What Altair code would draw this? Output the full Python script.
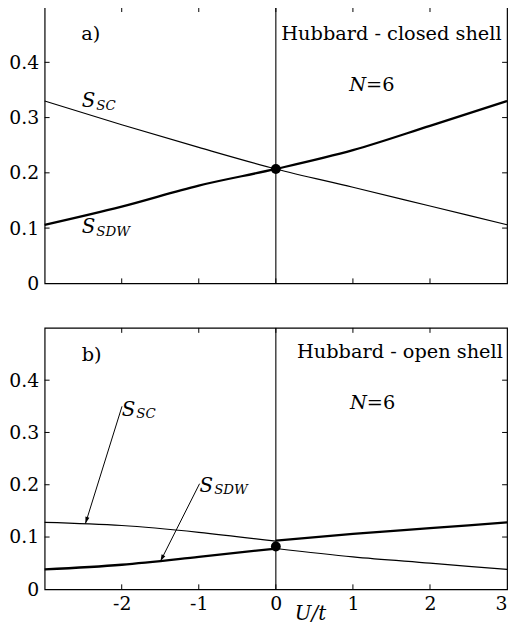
import altair as alt
import pandas as pd

# ---------------- data ----------------
u = [-3, -2, -1, 0, 1, 2, 3]
a_sc = [0.330, 0.287, 0.246, 0.207, 0.174, 0.140, 0.106]
a_sdw = [0.106, 0.139, 0.177, 0.207, 0.241, 0.285, 0.330]

u_left = [-3, -2, -1, 0]
u_right = [0, 1, 2, 3]
b_sc_left = [0.128, 0.122, 0.109, 0.092]
b_sc_right = [0.078, 0.062, 0.050, 0.038]
b_sdw_left = [0.038, 0.047, 0.062, 0.078]
b_sdw_right = [0.093, 0.106, 0.117, 0.128]

dot_a = 0.207
dot_b = 0.082

x_tick_vals = [-2, -1, 0, 1, 2]
x_label_vals = [-2, -1, 0, 1, 2, 3]
y_tick_vals = [0.1, 0.2, 0.3, 0.4]
y_label_vals = [0, 0.1, 0.2, 0.3, 0.4]

W = 467
HA = 279
HB = 264
SERIF = "DejaVu Serif"

xs = alt.Scale(domain=[-3, 3], nice=False, zero=False)
ys = alt.Scale(domain=[0, 0.5], nice=False)


def make_panel(thin_df, thick_df, dot_y, h, show_x, plain, labels_S, labels_sub, nlab, arrows):
    if show_x:
        xax = alt.Axis(values=x_label_vals, ticks=False, domain=False, grid=False,
                       title=None, labelFlush=True, labelFont=SERIF, labelFontSize=19,
                       labelColor="black", labelPadding=5,
                       labelExpr="replace(datum.label, '\u2212', '-')")
    else:
        xax = None
    yax = alt.Axis(values=y_label_vals, format="~g", ticks=False, domain=False,
                   grid=False, title=None, labelFont=SERIF, labelFontSize=19,
                   labelColor="black", labelPadding=6)

    def X(field):
        return alt.X(field, type="quantitative", scale=xs, axis=xax)

    def Y(field):
        return alt.Y(field, type="quantitative", scale=ys, axis=yax)

    def text_layer(rows, **kw):
        df = pd.DataFrame(rows, columns=["x", "y", "t"])
        return alt.Chart(df).mark_text(color="black", font=SERIF, baseline="middle", **kw).encode(
            x=X("x"), y=Y("y"), text="t:N")

    layers = []
    layers.append(alt.Chart(pd.DataFrame({"x": [0]})).mark_rule(color="black", strokeWidth=1.1)
                  .encode(x=X("x")))
    layers.append(alt.Chart(thin_df).mark_line(color="black", strokeWidth=1.2, interpolate="monotone")
                  .encode(x=X("u"), y=Y("v"), detail="seg:N"))
    layers.append(alt.Chart(thick_df).mark_line(color="black", strokeWidth=2.3, interpolate="monotone")
                  .encode(x=X("u"), y=Y("v"), detail="seg:N"))
    layers.append(alt.Chart(pd.DataFrame({"u": [0], "v": [dot_y]}))
                  .mark_point(filled=True, color="black", size=100, opacity=1)
                  .encode(x=X("u"), y=Y("v")))
    ty = pd.DataFrame({"v": y_tick_vals})
    tx = pd.DataFrame({"v": x_tick_vals})
    layers.append(alt.Chart(ty).mark_rule(color="black", strokeWidth=1)
                  .encode(y=Y("v"), x=alt.value(0), x2=alt.value(5)))
    layers.append(alt.Chart(ty).mark_rule(color="black", strokeWidth=1)
                  .encode(y=Y("v"), x=alt.value(W), x2=alt.value(W - 5)))
    layers.append(alt.Chart(tx).mark_rule(color="black", strokeWidth=1)
                  .encode(x=X("v"), y=alt.value(0), y2=alt.value(5)))
    layers.append(alt.Chart(tx).mark_rule(color="black", strokeWidth=1)
                  .encode(x=X("v"), y=alt.value(h), y2=alt.value(h - 5)))
    layers.append(text_layer(plain, fontSize=19.5, align="center"))
    layers.append(text_layer(labels_S, fontSize=20, fontStyle="italic", align="left"))
    layers.append(text_layer(labels_sub, fontSize=13.5, fontStyle="italic", align="left"))
    layers.append(text_layer([nlab[0]], fontSize=19.5, fontStyle="italic", align="right"))
    layers.append(text_layer([nlab[1]], fontSize=19.5, align="left"))
    if arrows:
        adf = pd.DataFrame(arrows, columns=["x0", "y0", "x1", "y1", "ang"])
        layers.append(alt.Chart(adf).mark_rule(color="black", strokeWidth=1)
                      .encode(x=X("x0"), y=Y("y0"), x2="x1:Q", y2="y1:Q"))
        layers.append(alt.Chart(adf).mark_point(filled=True, color="black", opacity=1, size=36,
                                                shape="M0,0L-0.7,-2.2L0.7,-2.2Z")
                      .encode(x=X("x1"), y=Y("y1"), angle=alt.Angle("ang:Q", scale=None)))
    if show_x:
        layers.append(alt.Chart(pd.DataFrame({"x": [0.45], "t": ["U/t"]}))
                      .mark_text(color="black", font=SERIF, fontSize=20, fontStyle="italic",
                                 baseline="middle", align="center")
                      .encode(x=X("x"), y=alt.value(h + 25), text="t:N"))
    return alt.layer(*layers).properties(width=W, height=h)


thin_a = pd.DataFrame({"u": u, "v": a_sc, "seg": ["a"] * len(u)})
thick_a = pd.DataFrame({"u": u, "v": a_sdw, "seg": ["a"] * len(u)})

thin_b = pd.DataFrame({"u": u_left + u_right, "v": b_sc_left + b_sc_right,
                       "seg": ["l"] * 4 + ["r"] * 4})
thick_b = pd.DataFrame({"u": u_left + u_right, "v": b_sdw_left + b_sdw_right,
                        "seg": ["l"] * 4 + ["r"] * 4})

pa = make_panel(thin_a, thick_a, dot_a, HA, False,
                plain=[(-2.40, 0.452, "a)"), (1.50, 0.452, "Hubbard - closed shell")],
                labels_S=[(-2.52, 0.330, "S"), (-2.52, 0.101, "S")],
                labels_sub=[(-2.33, 0.321, "SC"), (-2.33, 0.092, "SDW")],
                nlab=[(1.17, 0.359, "N"), (1.17, 0.359, "=6")],
                arrows=None)

pb = make_panel(thin_b, thick_b, dot_b, HB, True,
                plain=[(-2.39, 0.448, "b)"), (1.61, 0.453, "Hubbard - open shell")],
                labels_S=[(-2.0, 0.343, "S"), (-0.99, 0.198, "S")],
                labels_sub=[(-1.81, 0.335, "SC"), (-0.80, 0.189, "SDW")],
                nlab=[(1.18, 0.356, "N"), (1.18, 0.356, "=6")],
                arrows=[(-1.996, 0.350, -2.47, 0.126, 17.2), (-0.99, 0.202, -1.496, 0.054, 26.6)])

chart = alt.vconcat(pa, pb, spacing=32).properties(
    padding={"top": -6, "left": 0, "right": 0, "bottom": 0}
).configure(background="white").configure_view(stroke="black", strokeWidth=1.2)

chart.save("out.html", embed_options={"renderer": "svg", "actions": False})
